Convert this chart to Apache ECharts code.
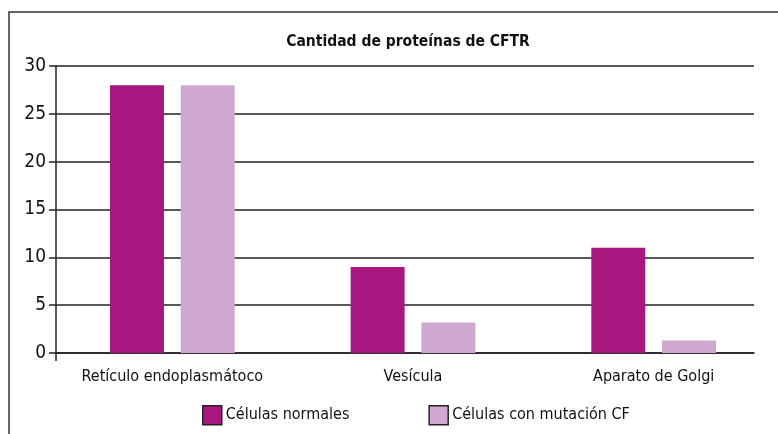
<!DOCTYPE html>
<html><head><meta charset="utf-8">
<script src="https://cdn.jsdelivr.net/npm/echarts@6/dist/echarts.min.js"></script>
<style>html,body{margin:0;padding:0;background:#fff}#c{width:778px;height:434px}</style>
</head><body><div id="c"></div>
<script>
var categories = ['Retículo endoplasmátoco', 'Vesícula', 'Aparato de Golgi'];
var normales = [28, 9, 11];
var mutacion = [28, 3.2, 1.3];
var yTicks = [0, 5, 10, 15, 20, 25, 30];
var FONT = '"Liberation Sans Narrow", "DejaVu Sans Condensed", "Roboto Condensed", sans-serif';
var chart = echarts.init(document.getElementById('c'));
chart.setOption({
  animation: false,
  textStyle: {fontFamily: FONT},
  title: {text: 'Cantidad de proteínas de CFTR', left: 403, textAlign: 'center', top: 29,
    textStyle: {fontFamily: FONT, fontWeight: 'bold', fontSize: 15.5, color: '#111'}},
  graphic: [{type: 'rect', shape: {x: 9, y: 12, width: 900, height: 600},
    style: {fill: 'none', stroke: '#333', lineWidth: 1.5}, silent: true}],
  legend: {left: 202, top: 405, padding: 0, itemWidth: 19, itemHeight: 19, itemGap: 79,
    icon: 'rect', textStyle: {fontFamily: FONT, fontSize: 16, color: '#111', padding: [0,0,0,-1]},
    itemStyle: {borderColor: '#222', borderWidth: 1.5}},
  grid: [
    {left: 56, right: 24, top: 66, bottom: 81},
    {left: 52, right: 4, top: 66, bottom: 81}
  ],
  xAxis: [
    {type: 'value', gridIndex: 0, min: 0, max: 3,
      axisLine: {show: true, lineStyle: {color: '#222', width: 1.5}},
      axisTick: {show: true, length: 8, customValues: [0], lineStyle: {color: '#222', width: 1.5}},
      axisLabel: {show: false}, splitLine: {show: false}},
    {type: 'category', gridIndex: 1, data: categories,
      axisLine: {show: false}, axisTick: {show: false},
      axisLabel: {interval: 0, fontFamily: FONT, fontSize: 16, color: '#111', margin: 16}}
  ],
  yAxis: [
    {type: 'value', gridIndex: 0, min: 0, max: 30, interval: 5,
      axisLine: {show: true, lineStyle: {color: '#222', width: 1.5}},
      axisTick: {show: true, length: 7, lineStyle: {color: '#222', width: 1.5}},
      axisLabel: {fontFamily: FONT, fontSize: 19, color: '#111', margin: 10,
        formatter: function (v) { return yTicks.indexOf(v) >= 0 ? String(v) : ''; }},
      splitLine: {lineStyle: {color: '#222', width: 1.5}}},
    {type: 'value', gridIndex: 1, min: 0, max: 30, interval: 5, show: false,
      splitLine: {show: false}}
  ],
  series: [
    {name: 'Células normales', type: 'bar', xAxisIndex: 1, yAxisIndex: 1, data: normales,
      barWidth: 54, barGap: '31%', itemStyle: {color: '#A8177F'}},
    {name: 'Células con mutación CF', type: 'bar', xAxisIndex: 1, yAxisIndex: 1, data: mutacion,
      barWidth: 54, itemStyle: {color: '#CFA8D1'}}
  ]
});
</script></body></html>
